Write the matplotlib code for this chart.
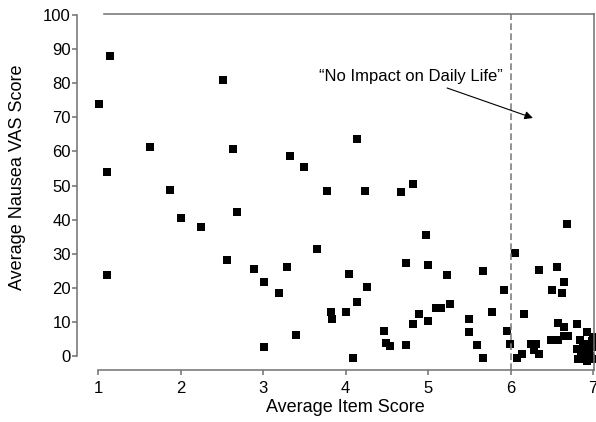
import matplotlib
matplotlib.use("Agg")
import matplotlib.pyplot as plt

plt.rcParams["font.family"] = ["Liberation Sans", "DejaVu Sans"]

# average item score vs average nausea VAS score
item_score = [
    1.01, 1.15, 1.11, 1.63, 1.87, 2.52, 2.64, 3.33, 1.11, 2.01,
    2.25, 2.68, 2.56, 2.89, 3.29, 3.01, 3.19, 3.01, 3.40, 3.50,
    4.14, 3.78, 4.24, 4.67, 4.82, 3.65, 4.04, 4.26, 4.14, 3.82,
    3.84, 4.01, 4.09, 4.46, 4.49, 4.54, 4.73, 4.73, 4.98, 5.00,
    4.89, 4.82, 5.00, 5.10, 5.16, 5.23, 5.27, 5.49, 5.49, 5.59,
    5.66, 5.66, 5.78, 5.92, 5.95, 5.99, 6.05, 6.16, 6.08, 6.14,
    6.25, 6.31, 6.28, 6.34, 6.34, 6.56, 6.65, 6.50, 6.62, 6.68,
    6.57, 6.65, 6.80, 6.49, 6.57, 6.65, 6.70, 6.93, 6.84, 6.88,
    6.85, 6.90, 6.95, 6.98, 7.00, 7.00, 6.93, 6.96, 6.88, 7.00,
    6.82, 6.86, 6.92, 6.97, 6.90, 6.81,
]
vas_score = [
    74.0, 88.0, 54.0, 61.3, 48.8, 81.0, 60.6, 58.7, 23.8, 40.6,
    37.9, 42.2, 28.1, 25.4, 26.1, 21.8, 18.6, 2.5, 6.1, 55.3,
    63.6, 48.5, 48.5, 48.1, 50.3, 31.4, 24.1, 20.1, 15.9, 13.0,
    11.0, 13.0, -0.5, 7.4, 3.8, 2.9, 3.1, 27.4, 35.4, 26.8,
    12.2, 9.3, 10.4, 14.0, 14.0, 23.8, 15.2, 11.0, 7.0, 3.1,
    -0.5, 24.8, 13.0, 19.5, 7.4, 3.4, 30.1, 12.2, -0.5, 0.6,
    3.4, 3.4, 1.8, 0.6, 25.1, 26.1, 21.8, 19.3, 18.6, 38.6,
    9.7, 8.4, 9.3, 4.7, 4.7, 5.9, 5.9, 7.1, 4.7, 3.0,
    0.5, -1.0, 1.5, 4.5, 2.5, -1.0, -1.5, 0.0, 1.5, 5.5,
    -1.0, 1.5, 3.5, -0.5, 1.0, 2.0,
]

x_ticks = [1, 2, 3, 4, 5, 6, 7]
y_ticks = [0, 10, 20, 30, 40, 50, 60, 70, 80, 90, 100]
cutoff = 6
note = "\u201cNo Impact on Daily Life\u201d"

fig = plt.figure(figsize=(5.96, 4.22), dpi=100)
ax = fig.add_axes([98 / 596, 52 / 422, 496 / 596, 356 / 422])

ax.plot(item_score, vas_score, "s", color="black", markersize=6.3,
        markeredgewidth=0, clip_on=False)
ax.axvline(cutoff, color="#808080", lw=1.2, ls=(0, (4, 2)))

# label and arrow pointing into the "no impact" zone
ax.text(4.79, 82.1, note, ha="center", va="center", fontsize=12)
ax.annotate("", xy=(6.27, 69.8), xytext=(5.23, 78.6),
            arrowprops=dict(arrowstyle="-|>", color="black", lw=0.8,
                            mutation_scale=12, shrinkA=0, shrinkB=0))

ax.set_xlim(1, 7.01)
ax.set_ylim(-4.1, 100.3)

grey = "#707070"
for side in ["left", "right", "top", "bottom"]:
    ax.spines[side].set_color(grey)
    ax.spines[side].set_linewidth(1.1)
ax.spines["left"].set_position(("outward", 15))
ax.spines["left"].set_bounds(0, 100)
ax.spines["bottom"].set_bounds(1, 7.01)
ax.spines["top"].set_bounds(1.07, 7.01)

ax.set_xticks(x_ticks)
ax.set_yticks(y_ticks)
ax.tick_params(axis="both", colors=grey, labelcolor="black", labelsize=12,
               length=3.6, width=1.1)
ax.tick_params(axis="x", pad=4)
ax.tick_params(axis="y", pad=1)

fig.text(345 / 596, 1 - 412 / 422, "Average Item Score", fontsize=13,
         ha="center", va="baseline")
fig.text(18 / 596, 1 - 177 / 422, "Average Nausea VAS Score", fontsize=13,
         ha="center", va="center", rotation=90)

fig.savefig("out.png", dpi=100)
